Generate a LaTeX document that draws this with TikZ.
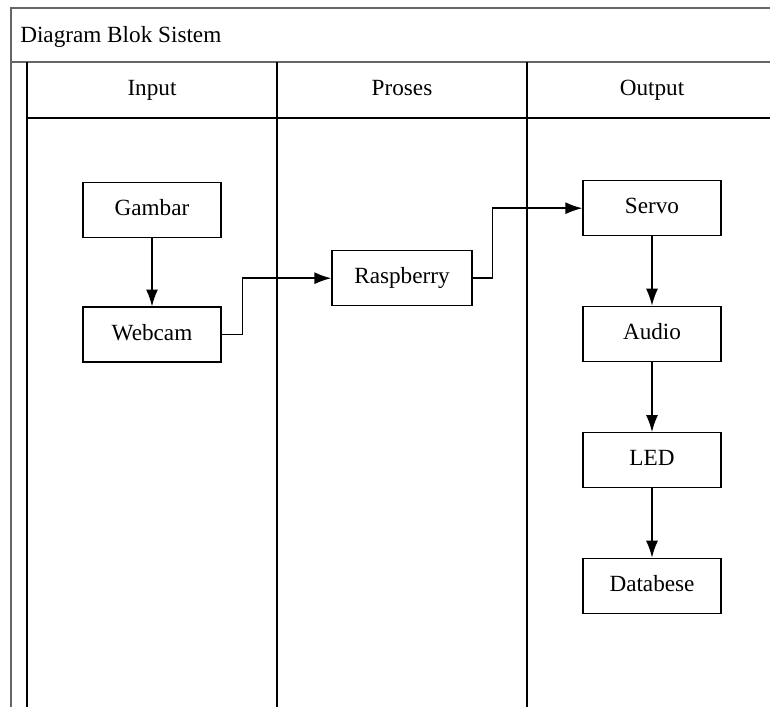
\documentclass[tikz,border=0pt]{standalone}
\usepackage{fontspec}
\setmainfont{Liberation Serif}
\usetikzlibrary{positioning, arrows.meta, calc}

\begin{document}
\begin{tikzpicture}[
  block/.style = {draw, line width=1pt, minimum width=3.45cm, minimum height=1.375cm, text height=0.8em, text depth=0pt, font=\fontsize{16.5}{19}\selectfont},
  heading/.style = {text height=0.8em, text depth=0pt, font=\fontsize{16.5}{19}\selectfont},
  flow/.style = {draw, line width=1pt, -{Latex[length=12pt, width=8.5pt]}},
  frame/.style = {draw=black!60, line width=2pt},
  lane/.style = {draw, line width=1.1pt}
]
  % Fix the page to the reference size
  \clip (-0.275,0.2) rectangle (18.975,-17.475);

  % Place the pool and its lanes
  \coordinate (pool) at (0,0);
  \coordinate (band) at (0,-1.35);
  \coordinate (lane_0) at (0.4,-1.35);
  \coordinate (lane_1) at ($(lane_0)+(6.25,0)$);
  \coordinate (lane_2) at ($(lane_1)+(6.25,0)$);
  \coordinate (lane_3) at ($(lane_2)+(6.25,0)$);

  % Draw the pool frame
  \path[frame]
    (pool -| lane_3) -- (pool) -- ++(0,-18)
    (band) -- (band -| lane_3)
  ;

  % Draw the lanes
  \path[lane]
    ($(lane_0)+(0,-1.4)$) -- ($(lane_3)+(0,-1.4)$)
    (lane_0) -- ++(0,-17)
    (lane_1) -- ++(0,-17)
    (lane_2) -- ++(0,-17)
    (lane_3) -- ++(0,-17)
  ;

  % Title and lane headings
  \node[heading, anchor=west, inner sep=0pt] (title) at (0.225,-0.72) {Diagram Blok Sistem};
  \node[heading] (input) at ($(lane_0)!0.5!(lane_1)+(0,-0.7)$) {Input};
  \node[heading] (proses) at ($(lane_1)!0.5!(lane_2)+(0,-0.7)$) {Proses};
  \node[heading] (output) at ($(lane_2)!0.5!(lane_3)+(0,-0.7)$) {Output};

  % Blocks of each lane
  \node[block] (gambar) [below=2.3cm of input.center] {Gambar};
  \node[block] (webcam) [below=1.7cm of gambar] {Webcam};

  \node[block, minimum width=3.5cm] (raspberry) [below=4cm of proses.center] {Raspberry};

  \node[block] (servo) [below=2.25cm of output.center] {Servo};
  \node[block] (audio) [below=1.73cm of servo] {Audio};
  \node[block] (led) [below=1.75cm of audio] {LED};
  \node[block] (databese) [below=1.73cm of led] {Databese};

  % Connect the blocks
  \path[flow] (gambar) -- (webcam);
  \path[flow] (webcam.east) -- ++(0.525,0) |- (raspberry.west);
  \path[flow] (raspberry.east) -- ++(0.5,0) |- (servo.west);
  \path[flow] (servo) -- (audio);
  \path[flow] (audio) -- (led);
  \path[flow] (led) -- (databese);
\end{tikzpicture}
\end{document}
